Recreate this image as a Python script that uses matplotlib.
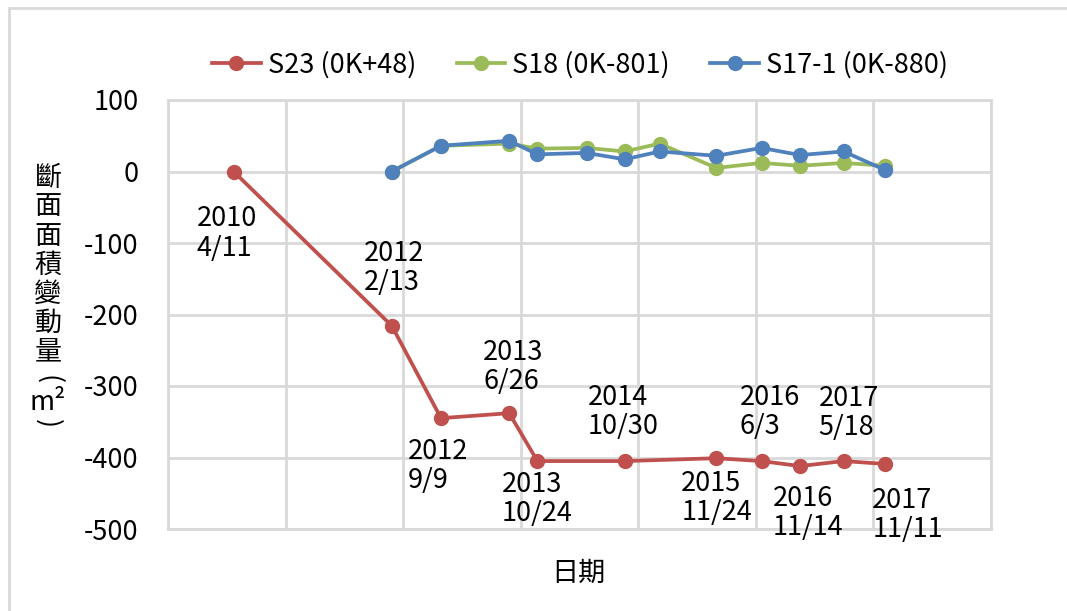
import pandas as pd
import matplotlib
matplotlib.use('Agg')
import matplotlib.pyplot as plt
from matplotlib.patches import Rectangle

plt.rcParams['font.family'] = ['Noto Sans CJK TC', 'DejaVu Sans']
plt.rcParams['axes.unicode_minus'] = False

# 測量日期與斷面面積變動量 (m2)
s23_dates = ['2010-04-11', '2012-02-13', '2012-09-09', '2013-06-26', '2013-10-24',
             '2014-10-30', '2015-11-24', '2016-06-03', '2016-11-14', '2017-05-18',
             '2017-11-11']
s23_vals = [0, -216, -345, -338, -405, -405, -401, -405, -412, -405, -409]

s17_dates = ['2012-02-13', '2012-09-09', '2013-06-26', '2013-10-24', '2014-05-21',
             '2014-10-30', '2015-03-28', '2015-11-24', '2016-06-03', '2016-11-14',
             '2017-05-18', '2017-11-11']
s18_vals = [0, 36, 39, 32, 33, 28, 39, 5, 12, 8, 12, 8]
s171_vals = [0, 36, 43, 24, 26, 17, 28, 22, 33, 23, 28, 2]

# 資料標籤文字 (年 / 月日)
s23_labels = ['2010\n4/11', '2012\n2/13', '2012\n9/9', '2013\n6/26', '2013\n10/24',
              '2014\n10/30', '2015\n11/24', '2016\n6/3', '2016\n11/14', '2017\n5/18',
              '2017\n11/11']
# 標籤左緣與垂直中心相對於資料點的位移 (像素)
label_offsets = [(-37, -62), (-28, 58), (-33, -48), (-26, 46), (-36, -38), (-37, 49),
                 (-35, -40), (-22, 49), (-27, -47), (-25, 48), (-13, -51)]

red, green, blue = '#C0504D', '#9BBB59', '#4F81BD'
grid_c = '#D9D9D9'
fs = 19.5

fig = plt.figure(figsize=(10.67, 6.11), dpi=100)
W, H = 1067, 611
ax = fig.add_axes([168 / W, 1 - 529 / H, (991 - 168) / W, (529 - 100) / H])

d23 = pd.to_datetime(s23_dates)
d17 = pd.to_datetime(s17_dates)

kw = dict(linewidth=2.7, marker='o', markersize=10, solid_joinstyle='round')
ax.plot(d23, s23_vals, color=red, label='S23 (0K+48)', **kw)
ax.plot(d17, s18_vals, color=green, label='S18 (0K-801)', **kw)
ax.plot(d17, s171_vals, color=blue, label='S17-1 (0K-880)', **kw)

for d, v, lab, (dx, dy) in zip(d23, s23_vals, s23_labels, label_offsets):
    ax.annotate(lab, (d, v), xytext=(dx, dy), textcoords='offset pixels',
                ha='left', va='center', fontsize=fs, linespacing=1.1,
                color='black')

# X 軸: 每 500 天一條格線, 不顯示刻度文字
x0 = pd.Timestamp('1899-12-30') + pd.Timedelta(days=40000)
ticks = pd.date_range(x0, periods=8, freq='500D')
ax.set_xlim(ticks[0], ticks[-1])
ax.set_xticks(ticks)
ax.set_xticklabels([])

ax.set_ylim(-500, 100)
ax.set_yticks(range(-500, 101, 100))
ax.tick_params(length=0, labelsize=fs, pad=21)
ax.grid(True, color=grid_c, linewidth=2)
ax.set_axisbelow(True)
for sp in ax.spines.values():
    sp.set_color(grid_c)
    sp.set_linewidth(2)

# 直書的 Y 軸標題 (括號轉 90 度)
ychars = ['斷', '面', '面', '積', '變', '動', '量', '(', 'm²', ')']
ypos = [178, 207, 236, 265, 294, 323, 352, 380, 403, 424]
yrot = [0, 0, 0, 0, 0, 0, 0, -90, 0, -90]
for ch, yp, r in zip(ychars, ypos, yrot):
    fig.text(48 / W, 1 - yp / H, ch, ha='center', va='center', fontsize=fs,
             rotation=r)

fig.text(578 / W, 1 - 573 / H, '日期', ha='center', va='center', fontsize=fs)

fig.legend(loc='center', bbox_to_anchor=(580 / W, 1 - 65 / H), ncol=3,
           frameon=False, fontsize=fs, handlelength=1.8, columnspacing=1.5,
           handletextpad=0.25)

# 圖表外框
fig.patches.append(Rectangle((9 / W, -0.1), 1.2, 1 - 8 / H + 0.1,
                             transform=fig.transFigure, fill=False,
                             edgecolor=grid_c, linewidth=2))

fig.savefig('out.png', dpi=100)
